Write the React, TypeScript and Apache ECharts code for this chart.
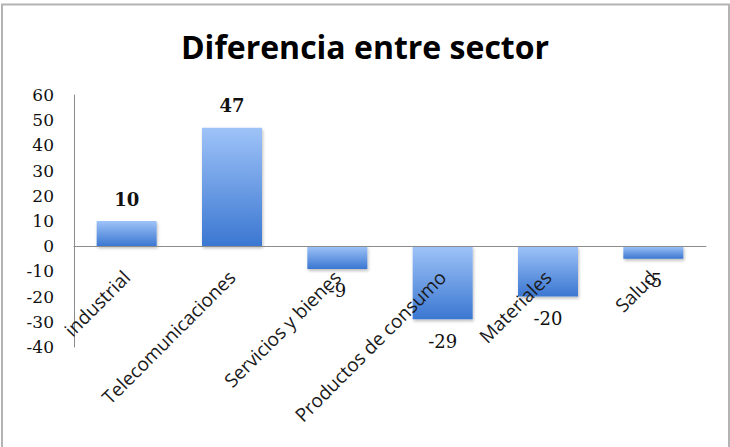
import React, { useEffect, useRef } from "react";
import * as echarts from "echarts";

const categories = ["industrial", "Telecomunicaciones", "Servicios y bienes", "Productos de consumo", "Materiales", "Salud"];
const values = [10, 47, -9, -29, -20, -5];
const yMin = -40;
const yMax = 60;
const yInterval = 10;

export default function App() {
  const ref = useRef<HTMLDivElement>(null);
  useEffect(() => {
    if (!ref.current) return;
    const chart = echarts.init(ref.current, null, { renderer: "svg" });
    const grad = new echarts.graphic.LinearGradient(0, 0, 0, 1, [
      { offset: 0, color: "#9ec3f8" },
      { offset: 1, color: "#3b77d1" },
    ]);
    chart.setOption({
      animation: false,
      backgroundColor: "#ffffff",
      title: {
        text: "Diferencia entre sector",
        left: "center",
        top: 25,
        textStyle: { fontFamily: "Open Sans", fontWeight: "bold", fontSize: 32, color: "#000" },
      },
      graphic: [
        {
          type: "rect",
          shape: { x: 2, y: 4.5, width: 727, height: 500 },
          style: { fill: "none", stroke: "#b4b4b4", lineWidth: 2 },
          silent: true,
        },
      ],
      grid: { left: 74, right: 24, top: 95, bottom: 100, containLabel: false, outerBoundsMode: "none" },
      xAxis: {
        type: "category",
        data: categories,
        offset: -101,
        z: 10,
        axisLine: { onZero: false, lineStyle: { color: "#8c8c8c", width: 1 } },
        axisTick: { show: false },
        axisLabel: {
          rotate: 45,
          interval: 0,
          margin: 28,
          fontFamily: "Open Sans",
          fontSize: 19,
          color: "#1a1a1a",
        },
      },
      yAxis: {
        type: "value",
        min: yMin,
        max: yMax,
        interval: yInterval,
        splitLine: { show: false },
        axisLine: { show: true, lineStyle: { color: "#8c8c8c", width: 1 } },
        axisTick: { show: false },
        axisLabel: {
          margin: 20,
          fontFamily: "DejaVu Serif",
          fontSize: 17,
          color: "#111",
        },
      },
      series: [
        {
          type: "bar",
          barWidth: 60,
          z: 1,
          data: values.map((v) => ({
            value: v,
            label: {
              show: true,
              position: v >= 0 ? "top" : "bottom",
              distance: 13,
              fontFamily: "DejaVu Serif",
              fontSize: 18,
              fontWeight: v >= 0 ? "bold" : "normal",
              color: "#111",
            },
          })),
          itemStyle: {
            color: grad,
            shadowBlur: 3,
            shadowColor: "rgba(0,0,0,0.25)",
            shadowOffsetX: 1,
            shadowOffsetY: 2,
          },
        },
      ],
    });
    return () => chart.dispose();
  }, []);
  return <div ref={ref} style={{ position: "fixed", left: 0, top: 0, width: 730, height: 447 }} />;
}
